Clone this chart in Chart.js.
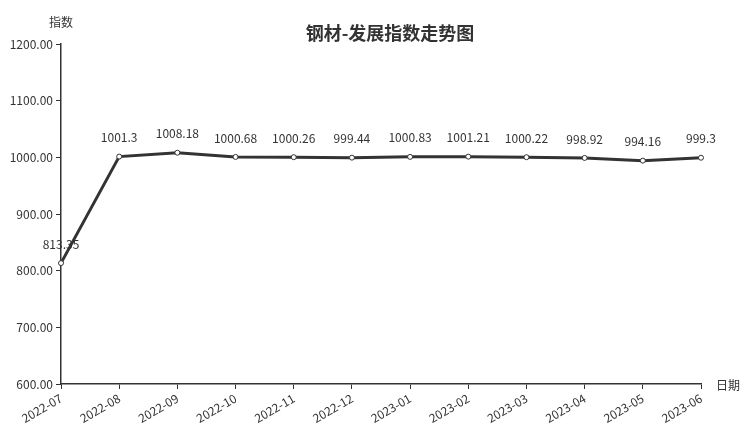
<!DOCTYPE html>
<html>
<head>
<meta charset="utf-8">
<script src="https://cdn.jsdelivr.net/npm/chart.js@4"></script>
<style>
    body { margin: 0; background: #fff; }
    #wrap { width: 753px; height: 427px; }
</style>
</head>
<body>
<div id="wrap"><canvas id="chart"></canvas></div>
<script>
const title = '钢材-发展指数走势图';
const dates = ['2022-07', '2022-08', '2022-09', '2022-10', '2022-11', '2022-12',
    '2023-01', '2023-02', '2023-03', '2023-04', '2023-05', '2023-06'];
const values = [813.35, 1001.3, 1008.18, 1000.68, 1000.26, 999.44,
    1000.83, 1001.21, 1000.22, 998.92, 994.16, 999.3];
const yMin = 600;
const yMax = 1200;
const yStep = 100;

const font = "'Noto Sans CJK SC', 'Noto Sans', sans-serif";
const ink = '#333';

// title, axis names and value labels
const extras = {
    id: 'extras',
    afterDatasetsDraw(chart) {
        const ctx = chart.ctx;
        const area = chart.chartArea;
        ctx.save();
        ctx.fillStyle = ink;
        ctx.textAlign = 'center';
        ctx.textBaseline = 'middle';
        ctx.font = 'bold 18px ' + font;
        ctx.fillText(title, 390, 33);

        ctx.font = '12px ' + font;
        ctx.fillText('指数', area.left, 22);
        ctx.textAlign = 'left';
        ctx.fillText('日期', area.right + 15, area.bottom + 1);

        ctx.textAlign = 'center';
        const meta = chart.getDatasetMeta(0);
        meta.data.forEach((pt, i) => {
            ctx.fillText(String(values[i]), pt.x, pt.y - 19);
        });
        ctx.restore();
    }
};

new Chart(document.getElementById('chart'), {
    type: 'line',
    data: {
        labels: dates,
        datasets: [{
            data: values,
            borderColor: ink,
            borderWidth: 3,
            pointRadius: 2.5,
            pointBorderWidth: 1,
            pointBackgroundColor: '#fff',
            pointBorderColor: ink,
            tension: 0
        }]
    },
    options: {
        responsive: true,
        maintainAspectRatio: false,
        animation: false,
        layout: {
            padding: { left: 0, top: 44, right: 52, bottom: 0 }
        },
        scales: {
            x: {
                offset: false,
                border: { color: ink, width: 1.5 },
                grid: { drawOnChartArea: false, color: ink, tickLength: 5 },
                ticks: {
                    color: ink,
                    font: { family: font, size: 12 },
                    minRotation: 30,
                    maxRotation: 30,
                    padding: 2,
                    autoSkip: false
                },
                afterFit(axis) { axis.height = 43; }
            },
            y: {
                min: yMin,
                max: yMax,
                border: { color: ink, width: 1.5 },
                grid: { drawOnChartArea: false, color: ink, tickLength: 5 },
                ticks: {
                    stepSize: yStep,
                    color: ink,
                    font: { family: font, size: 12 },
                    padding: 3,
                    callback: v => v.toFixed(2)
                },
                afterFit(axis) { axis.width = 61; }
            }
        },
        plugins: {
            legend: { display: false },
            tooltip: { enabled: false }
        }
    },
    plugins: [extras]
});
</script>
</body>
</html>
